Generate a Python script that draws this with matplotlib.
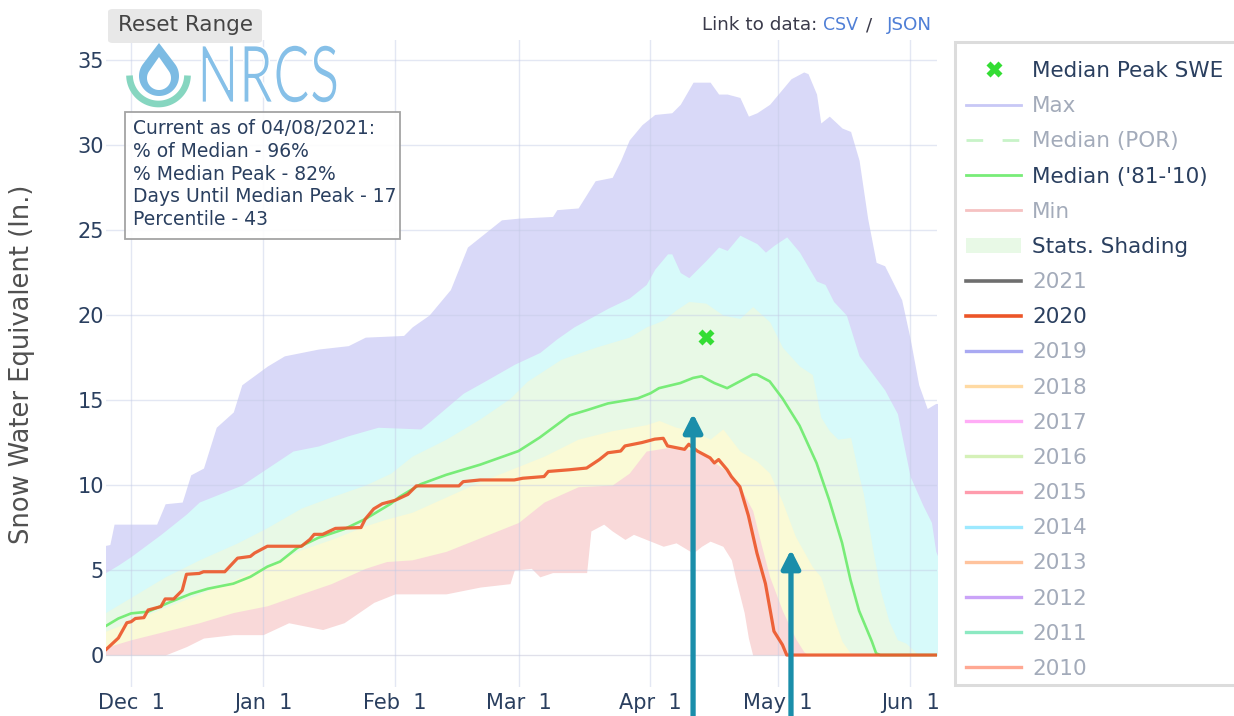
import numpy as np
import matplotlib
matplotlib.use("Agg")
import matplotlib.pyplot as plt
import matplotlib.dates as mdates
from matplotlib.lines import Line2D
from matplotlib.patches import Patch, PathPatch, Polygon, FancyBboxPatch, Rectangle
from matplotlib.textpath import TextPath
from matplotlib.font_manager import FontProperties
from matplotlib.transforms import Affine2D

W, H = 1234, 716

# water year 2020 (Oct 2019 - Sep 2020), dates given as MM-DD
max_dates = ["11-24", "11-26", "11-27", "12-07", "12-09", "12-13", "12-15", "12-18", "12-21", "12-25",
             "12-27", "01-02", "01-06", "01-14", "01-21", "01-25", "02-03", "02-05", "02-09", "02-14",
             "02-18", "02-23", "02-26", "03-01", "03-09", "03-10", "03-15", "03-19", "03-23", "03-25",
             "03-27", "03-30", "04-02", "04-06", "04-08", "04-11", "04-15", "04-17", "04-19", "04-22",
             "04-24", "04-26", "04-29", "05-01", "05-04", "05-07", "05-08", "05-10", "05-11", "05-13",
             "05-16", "05-18", "05-20", "05-22", "05-24", "05-26", "05-30", "06-01", "06-03", "06-05",
             "06-07", "06-08"]
max_swe = [6.4, 6.5, 7.7, 7.7, 8.9, 9.0, 10.6, 11.0, 13.4, 14.3,
           15.9, 17.0, 17.6, 18.0, 18.2, 18.7, 18.8, 19.3, 20.0, 21.5,
           24.0, 25.0, 25.6, 25.7, 25.8, 26.2, 26.3, 27.9, 28.1, 29.1,
           30.3, 31.2, 31.8, 31.9, 32.4, 33.7, 33.7, 33.0, 33.0, 32.8,
           31.7, 31.9, 32.4, 33.0, 33.9, 34.3, 34.2, 33.0, 31.3, 31.7,
           31.0, 30.8, 29.1, 25.7, 23.1, 22.9, 20.9, 18.6, 15.9, 14.5,
           14.8, 14.8]

p90_dates = ["11-24", "11-25", "11-28", "12-01", "12-08", "12-14", "12-17", "12-23", "12-27", "01-02",
             "01-08", "01-14", "01-21", "01-28", "02-07", "02-09", "02-17", "02-22", "02-29", "03-06",
             "03-10", "03-14", "03-22", "03-27", "03-31", "04-02", "04-05", "04-06", "04-08", "04-10",
             "04-14", "04-17", "04-19", "04-22", "04-26", "04-28", "04-30", "05-03", "05-06", "05-10",
             "05-12", "05-14", "05-17", "05-20", "05-23", "05-26", "05-29", "06-01", "06-04", "06-06",
             "06-07", "06-08"]
p90_swe = [4.8, 4.85, 5.3, 5.8, 7.1, 8.3, 9.0, 9.6, 10.0, 11.0,
           12.0, 12.3, 12.9, 13.4, 13.3, 13.7, 15.4, 16.1, 17.1, 17.8,
           18.6, 19.3, 20.4, 21.0, 21.8, 22.7, 23.6, 23.6, 22.5, 22.2,
           23.2, 24.0, 23.8, 24.7, 24.2, 23.7, 24.1, 24.6, 23.7, 22.0,
           21.8, 20.8, 20.0, 17.6, 16.6, 15.6, 14.2, 10.5, 8.8, 7.8,
           6.1, 5.5]

p70_dates = ["11-24", "11-25", "12-01", "12-09", "12-17", "12-26", "01-02", "01-10", "01-17", "01-25",
             "01-31", "02-05", "02-13", "02-21", "02-28", "03-03", "03-11", "03-19", "03-27", "03-31",
             "04-04", "04-07", "04-10", "04-14", "04-18", "04-22", "04-25", "04-29", "05-02", "05-06",
             "05-09", "05-11", "05-13", "05-15", "05-18", "05-20", "05-21", "05-23", "05-25", "05-27",
             "05-29", "05-31", "06-03", "06-08"]
p70_swe = [2.4, 2.5, 3.4, 4.6, 5.6, 6.6, 7.5, 8.65, 9.3, 10.0,
           10.7, 11.7, 12.7, 13.9, 15.1, 16.1, 17.4, 18.1, 18.7, 19.3,
           19.7, 20.3, 20.8, 20.7, 20.0, 19.8, 20.5, 19.6, 18.1, 17.0,
           16.5, 14.0, 13.2, 12.7, 12.8, 10.5, 9.5, 6.5, 3.8, 2.0,
           0.9, 0.7, 0.0, 0.0]

p30_dates = ["11-24", "11-25", "12-01", "12-09", "12-17", "12-25", "01-02", "01-10", "01-17", "01-25",
             "01-30", "02-05", "02-13", "02-21", "02-29", "03-07", "03-15", "03-23", "03-31", "04-03",
             "04-07", "04-11", "04-15", "04-18", "04-22", "04-26", "04-29", "05-02", "05-05", "05-09",
             "05-11", "05-14", "05-16", "05-18", "05-19", "06-08"]
p30_swe = [1.35, 1.4, 2.0, 2.8, 3.6, 4.4, 5.3, 6.2, 6.8, 7.6,
           8.0, 8.4, 9.3, 10.2, 11.0, 11.7, 12.7, 13.2, 13.55, 13.8,
           13.4, 13.2, 12.7, 13.3, 12.0, 11.4, 10.7, 9.0, 7.0, 5.2,
           4.6, 2.2, 0.8, 0.1, 0.0, 0.0]

p10_dates = ["11-24", "11-25", "12-01", "12-09", "12-17", "12-25", "01-02", "01-10", "01-17", "01-25",
             "01-30", "02-05", "02-13", "02-21", "03-01", "03-07", "03-15", "03-23", "03-27", "03-31",
             "04-05", "04-10", "04-14", "04-19", "04-22", "04-25", "04-27", "04-29", "05-02", "05-05",
             "05-07", "05-08", "06-08"]
p10_swe = [0.4, 0.45, 0.9, 1.4, 1.9, 2.5, 2.9, 3.6, 4.2, 5.1,
           5.5, 5.6, 6.1, 6.9, 7.8, 9.0, 9.9, 10.0, 10.7, 12.0,
           12.2, 12.1, 11.7, 10.8, 9.9, 8.5, 6.5, 4.6, 2.6, 1.0,
           0.2, 0.0, 0.0]

min_dates = ["11-24", "12-09", "12-14", "12-18", "12-25", "01-01", "01-07", "01-15", "01-20", "01-27",
             "02-01", "02-13", "02-21", "02-28", "02-29", "03-04", "03-06", "03-09", "03-17", "03-18",
             "03-21", "03-23", "03-26", "03-28", "03-30", "04-01", "04-04", "04-07", "04-11", "04-13",
             "04-15", "04-18", "04-20", "04-21", "04-23", "04-24", "04-25", "06-08"]
min_swe = [0.0, 0.0, 0.5, 1.0, 1.2, 1.2, 1.9, 1.5, 1.9, 3.1,
           3.6, 3.6, 4.0, 4.2, 5.0, 5.1, 4.6, 4.85, 4.85, 7.3,
           7.7, 7.3, 6.8, 7.1, 6.9, 6.7, 6.4, 6.6, 6.0, 6.4,
           6.7, 6.4, 5.6, 4.5, 2.5, 1.0, 0.0, 0.0]

median_dates = ["11-24", "11-25", "11-28", "12-01", "12-05", "12-10", "12-15", "12-19", "12-25", "12-29",
                "01-02", "01-05", "01-09", "01-14", "01-20", "01-25", "01-31", "02-02", "02-07", "02-13",
                "02-21", "03-01", "03-06", "03-13", "03-17", "03-22", "03-29", "04-01", "04-03", "04-08",
                "04-11", "04-13", "04-16", "04-19", "04-22", "04-25", "04-26", "04-29", "05-02", "05-06",
                "05-10", "05-13", "05-16", "05-18", "05-20", "05-23", "05-24", "05-25", "06-08"]
median_swe = [1.6, 1.7, 2.15, 2.45, 2.55, 3.1, 3.6, 3.9, 4.2, 4.6,
              5.2, 5.5, 6.3, 6.9, 7.4, 8.0, 8.9, 9.3, 10.05, 10.6,
              11.2, 12.0, 12.8, 14.1, 14.4, 14.8, 15.1, 15.4, 15.7, 16.0,
              16.3, 16.4, 16.0, 15.7, 16.1, 16.5, 16.5, 16.1, 15.1, 13.5,
              11.3, 9.1, 6.6, 4.4, 2.6, 0.8, 0.1, 0.0, 0.0]

wy2020_dates = ["11-24", "11-25", "11-28", "11-30", "12-01", "12-02", "12-04", "12-05", "12-08", "12-09",
                "12-11", "12-13", "12-14", "12-17", "12-18", "12-23", "12-26", "12-29", "12-30", "01-02",
                "01-10", "01-12", "01-13", "01-15", "01-18", "01-24", "01-25", "01-27", "01-29", "02-01",
                "02-04", "02-06", "02-16", "02-17", "02-21", "02-29", "03-02", "03-07", "03-08", "03-13",
                "03-17", "03-20", "03-22", "03-25", "03-26", "03-30", "04-02", "04-04", "04-05", "04-09",
                "04-10", "04-12", "04-15", "04-16", "04-17", "04-19", "04-20", "04-22", "04-24", "04-26",
                "04-28", "04-30", "05-02", "05-03", "06-08"]
wy2020_swe = [0.15, 0.3, 1.0, 1.9, 1.96, 2.15, 2.2, 2.65, 2.85, 3.3,
              3.3, 3.8, 4.75, 4.8, 4.9, 4.9, 5.7, 5.8, 6.0, 6.4,
              6.4, 6.8, 7.1, 7.1, 7.45, 7.5, 8.0, 8.6, 8.9, 9.1,
              9.45, 9.95, 9.95, 10.2, 10.3, 10.3, 10.4, 10.5, 10.8, 10.9,
              11.0, 11.5, 11.9, 12.0, 12.3, 12.5, 12.7, 12.75, 12.3, 12.1,
              12.4, 12.0, 11.6, 11.3, 11.5, 10.9, 10.5, 9.9, 8.2, 6.0,
              4.2, 1.4, 0.6, 0.0, 0.0]

peak_date = ["04-14"]
peak_swe = [18.7]

info_lines = ["Current as of 04/08/2021:", "% of Median - 96%", "% Median Peak - 82%",
              "Days Until Median Peak - 17", "Percentile - 43"]

legend_labels = ["Median Peak SWE", "Max", "Median (POR)", "Median ('81-'10)", "Min", "Stats. Shading",
                 "2021", "2020", "2019", "2018", "2017", "2016", "2015", "2014", "2013", "2012", "2011", "2010"]
legend_shown = ["Median Peak SWE", "Median ('81-'10)", "Stats. Shading", "2020"]
year_colors = ["#a9a9f2", "#ffdaa3", "#ffacf6", "#d5f1b8", "#ff9cad", "#9de9ff",
               "#ffc39d", "#caa3f8", "#8ce9c2", "#ffa893"]

# annotation arrows drawn over the chart
arrow_dates = ["04-11", "05-04"]
arrow_tips = [14.2, 6.2]


def to_dates(md):
    out = []
    for s in md:
        year = 2019 if int(s[:2]) >= 10 else 2020
        out.append(np.datetime64(f"{year}-{s}"))
    return np.array(out)


def px_tr(fig):
    # pixel coords (y up) -> figure
    return Affine2D().scale(1 / W, 1 / H) + fig.transFigure


def drop_path(cx, cy, r, tip):
    ang = np.degrees(np.arccos(r / tip))
    t = np.radians(np.linspace(90 - ang, 90 + ang - 360, 80))
    pts = np.column_stack([cx + r * np.cos(t), cy + r * np.sin(t)])
    return np.vstack([pts, [cx, cy + tip]])


def add_logo(fig):
    tr = px_tr(fig)
    fig.add_artist(Polygon(drop_path(159, H - 76, 20, 33), closed=True, fc="#7cbbe3", ec="none", transform=tr))
    fig.add_artist(Polygon(drop_path(159, H - 78, 12, 21), closed=True, fc="white", ec="none", transform=tr))
    t = np.radians(np.linspace(181, 359, 60))
    fig.add_artist(Line2D(158.5 + 29 * np.cos(t), (H - 75) + 29 * np.sin(t), lw=4.8, color="#86d6c0",
                          solid_capstyle="butt", transform=tr))
    tp = TextPath((0, 0), "NRCS", size=100, prop=FontProperties(family="Lato", weight="normal"))
    ext = tp.get_extents()
    a = Affine2D().translate(-ext.x0, -ext.y0).scale(135 / ext.width, 58 / ext.height).translate(202, H - 103)
    fig.add_artist(PathPatch(a.transform_path(tp), fc="#86c0e8", ec="white", lw=1.1, transform=tr))


fig = plt.figure(figsize=(W / 100, H / 100), dpi=100)
ax = fig.add_axes([106 / W, 1 - 687 / H, (937 - 106) / W, (687 - 40) / H])

bands = [(max_dates, max_swe, "#d9d9f8"), (p90_dates, p90_swe, "#d7fafa"), (p70_dates, p70_swe, "#e8f9e6"),
         (p30_dates, p30_swe, "#fafad6"), (p10_dates, p10_swe, "#f9d9d9"), (min_dates, min_swe, "white")]
for i, (d, v, c) in enumerate(bands):
    ax.fill_between(to_dates(d), v, 0, color=c, lw=0, zorder=0.1 + 0.01 * i)

ax.plot(to_dates(median_dates), median_swe, color="#78ec78", lw=1.9, zorder=2)
ax.plot(to_dates(wy2020_dates), wy2020_swe, color="#ec5528", lw=2.3, alpha=0.9, zorder=2.1)
ax.plot(to_dates(peak_date), peak_swe, ls="none", marker="X", ms=11, color="#33dd33", mec="none", zorder=3)

day0 = mdates.date2num(np.datetime64("2019-12-01"))
ax.set_xlim(day0 - 5.9, day0 + 189.3)
ax.set_ylim(-1.88, 36.18)
ax.set_yticks(range(0, 36, 5))
ax.xaxis.set_major_locator(mdates.MonthLocator())
ax.xaxis.set_major_formatter(mdates.DateFormatter("%b %e"))
ax.set_axisbelow(True)
ax.grid(True, color="#c3cbe6", alpha=0.45, lw=1.0)
for s in ax.spines.values():
    s.set_visible(False)
ax.tick_params(length=0, labelsize=15, colors="#2a3f5f")
ax.tick_params(axis="y", pad=1.5)
ax.tick_params(axis="x", pad=4.5)

fig.text(22 / W, 1 - 364 / H, "Snow Water Equivalent (In.)", rotation=90, ha="center", va="center",
         fontsize=18.5, color="#505050")

for d, tip in zip(arrow_dates, arrow_tips):
    ax.annotate("", xy=(to_dates([d])[0], tip), xytext=(to_dates([d])[0], -0.01),
                textcoords=("data", "figure fraction"), annotation_clip=False, zorder=10,
                arrowprops=dict(arrowstyle="-|>,head_length=0.55,head_width=0.28", mutation_scale=20,
                                lw=3.8, color="#1a8eaa", shrinkA=0, shrinkB=0))

# info box and logo
fig.add_artist(Rectangle((125 / W, 1 - 239 / H), 275 / W, 127 / H, fc="white", ec="#9a9a9a", lw=1.3,
                         alpha=0.9, zorder=4))
fig.text(133 / W, 1 - 119 / H, "\n".join(info_lines), ha="left", va="top", fontsize=13.5,
         color="#2a3f5f", linespacing=1.25, zorder=5)
add_logo(fig)

# top buttons
fig.add_artist(FancyBboxPatch((108 / W, 1 - 43 / H), 154 / W, 34 / H, boxstyle="round,pad=0,rounding_size=0.004",
                              fc="#e8e8e8", ec="none"))
fig.text(185 / W, 1 - 25 / H, "Reset Range", ha="center", va="center", fontsize=15.5, color="#444444")
fig.text(817 / W, 1 - 25 / H, "Link to data:", ha="right", va="center", fontsize=13.2, color="#3a3a4a")
fig.text(823 / W, 1 - 25 / H, "CSV", ha="left", va="center", fontsize=12.5, color="#4f7fd6")
fig.text(872 / W, 1 - 25 / H, "/", ha="right", va="center", fontsize=13.2, color="#3a3a4a")
fig.text(932 / W, 1 - 25 / H, "JSON", ha="right", va="center", fontsize=13.2, color="#4f7fd6")

# legend (frame drawn separately so rows can be placed freely)
fig.add_artist(Rectangle((955 / W, 1 - 685 / H), 300 / W, 643 / H, fc="white", ec="#dcdcdc", lw=2.2, zorder=1))
handles = [Line2D([], [], ls="none", marker="X", ms=11, color="#33dd33", mec="none"),
           Line2D([], [], color="#c8c8f6", lw=2.0),
           Line2D([], [], color="#c8f3c8", lw=2.0, dashes=(6, 7)),
           Line2D([], [], color="#78ec78", lw=2.0),
           Line2D([], [], color="#f6c2c2", lw=2.0),
           Patch(fc="#e8f9e6", ec="none"),
           Line2D([], [], color="#6e6e6e", lw=2.6),
           Line2D([], [], color="#ec5528", lw=2.6)]
handles += [Line2D([], [], color=c, lw=2.4) for c in year_colors]
leg = fig.legend(handles, legend_labels, loc="upper left", bbox_to_anchor=(966 / W, 1 - 61 / H),
                 fontsize=15.5, handlelength=2.56, handletextpad=0.5, labelspacing=0.705, borderpad=0,
                 borderaxespad=0, frameon=False)
leg.set_zorder(5)
for t in leg.get_texts():
    t.set_color("#2a3f5f" if t.get_text() in legend_shown else "#a3abba")

fig.savefig("out.png", dpi=100)
